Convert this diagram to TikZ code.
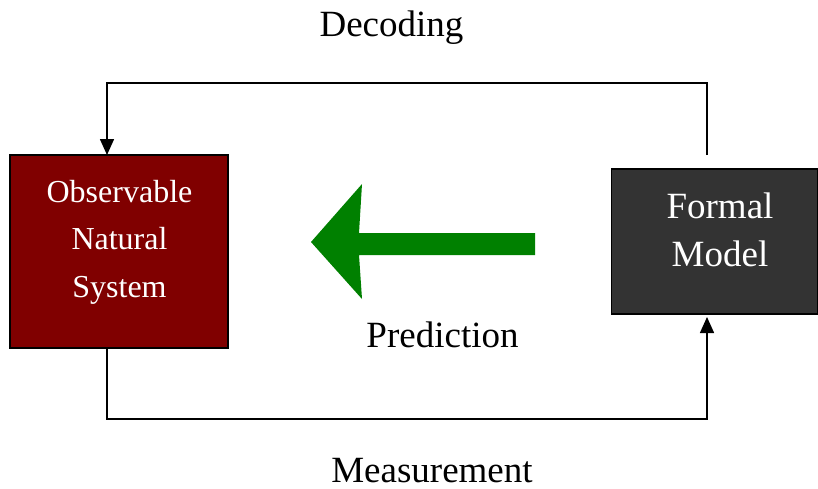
\documentclass[tikz,border=0pt]{standalone}
\usepackage{fontspec}
\setmainfont{Liberation Serif}
\usetikzlibrary{arrows.meta}
\definecolor{boxred}{HTML}{800000}
\definecolor{boxgray}{HTML}{333333}
\definecolor{arrowgreen}{HTML}{008000}
\tikzset{
  sysbox/.style={draw=black, line width=1.2pt, inner sep=0pt},
  label37/.style={font=\fontsize{37}{44}\selectfont, inner sep=0pt, anchor=base},
  boxtext/.style={text=white, align=center, inner sep=0pt, anchor=base},
  flow/.style={line width=1.5pt, -{Triangle[width=14pt,length=16pt]}},
}
\begin{document}
\begin{tikzpicture}[x=1pt, y=-1pt]
\useasboundingbox (0,0) rectangle (818,488);

% the two systems
\node[sysbox, fill=boxred, minimum width=218pt, minimum height=193pt] (obs) at (119,251.5) {};
\node[sysbox, fill=boxgray, minimum width=206pt, minimum height=145pt] (fm) at (714.5,241.5) {};

% labels anchored at the baseline of their last line
\node[boxtext, font=\fontsize{32}{47.5}\selectfont] (obstext) at (119.5,297) {Observable\\Natural\\System};
\node[boxtext, font=\fontsize{37}{48}\selectfont] (fmtext) at (720,266.5) {Formal\\Model};

% decoding loop (top)
\coordinate (dstart) at (707,155);
\coordinate (dend) at (107,155);
\draw[flow] (dstart) -- (707,83) -- (107,83) -- (dend);

% measurement loop (bottom)
\coordinate (mstart) at (107,348);
\coordinate (mend) at (707,317);
\draw[flow] (mstart) -- (107,419) -- (707,419) -- (mend);

% prediction arrow
\fill[arrowgreen] (311,242) -- (362,184) -- (359,233) -- (535,233) -- (535,255)
  -- (359,255) -- (362,299) -- cycle;

\node[label37] (dec) at (391.5,36) {Decoding};
\node[label37] (meas) at (432,482.5) {Measurement};
\node[label37] (pred) at (442.5,347) {Prediction};
\end{tikzpicture}
\end{document}
